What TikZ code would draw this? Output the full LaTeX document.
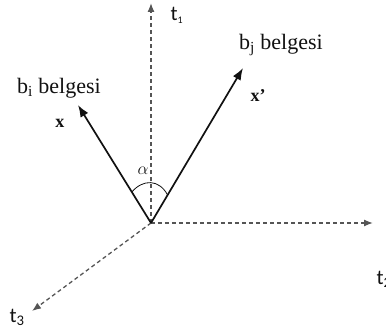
\documentclass[tikz,border=0pt]{standalone}
\usepackage{fontspec}
\setmainfont{Liberation Serif}
\newfontfamily\axisfont{Carlito}
\usepackage{tikz}
\usetikzlibrary{positioning,arrows.meta,calc}
\definecolor{ink}    {HTML}{111111}
\definecolor{softink}{HTML}{555555}
\tikzset{
  % --- axes and vectors
  axis/.style  = {draw=softink, line width=1.3pt, dash pattern=on 4pt off 3pt,
                  -{Latex[length=9pt,width=7pt]}},
  vec/.style   = {draw=ink, line width=1.7pt, -{Latex[length=12pt,width=9pt]}},
  % --- labels
  axlbl/.style = {font=\fontsize{21}{24}\selectfont\axisfont, text=ink, inner sep=0pt},
  doclbl/.style= {font=\fontsize{22}{25}\selectfont, text=ink, inner sep=0pt},
  veclbl/.style= {font=\fontsize{18}{20}\selectfont\bfseries, text=ink, inner sep=0pt},
}
\begin{document}
\begin{tikzpicture}[x=1pt,y=1pt]
  \useasboundingbox (-151,-106) rectangle (235,223);

  \coordinate (O) at (0,0);
  \coordinate (t1tip) at (0,220);
  \coordinate (t2tip) at (222,0);
  \coordinate (t3tip) at (-119,-88);
  \coordinate (xtip)  at (-73,118);
  \coordinate (xptip) at (92,155);

  % axes
  \draw[axis] (O) -- (t1tip);
  \draw[axis] (O) -- (t2tip);
  \draw[axis] (O) -- (t3tip);

  \node[axlbl] (t1) at (26,208) {t\textsubscript{\fontsize{10}{10}\selectfont 1}};
  \node[axlbl] (t2) at (233,-56) {t\textsubscript{2}};
  \node[axlbl] (t3) at (-134,-94) {t\textsubscript{3}};

  % document vectors
  \draw[vec] (O) -- (xtip);
  \draw[vec] (O) -- (xptip);

  \node[doclbl] (bi) at (-92,135) {b\textsubscript{i} belgesi};
  \node[doclbl] (bj) at (130,178) {b\textsubscript{j} belgesi};
  \node[veclbl] (x)  at (-91,100) {x};
  \node[veclbl] (xp) at (107,127) {x'};

  % angle between them
  \coordinate (a1) at (-19.2,31);
  \coordinate (a2) at (16.6,28);
  \draw[ink, line width=0.8pt] (a1) .. controls (-8,44) and (8,44) .. (a2);
  \node[font=\fontsize{16}{18}\selectfont, text=ink] (alpha) at (-8,52) {$\alpha$};
\end{tikzpicture}
\end{document}
